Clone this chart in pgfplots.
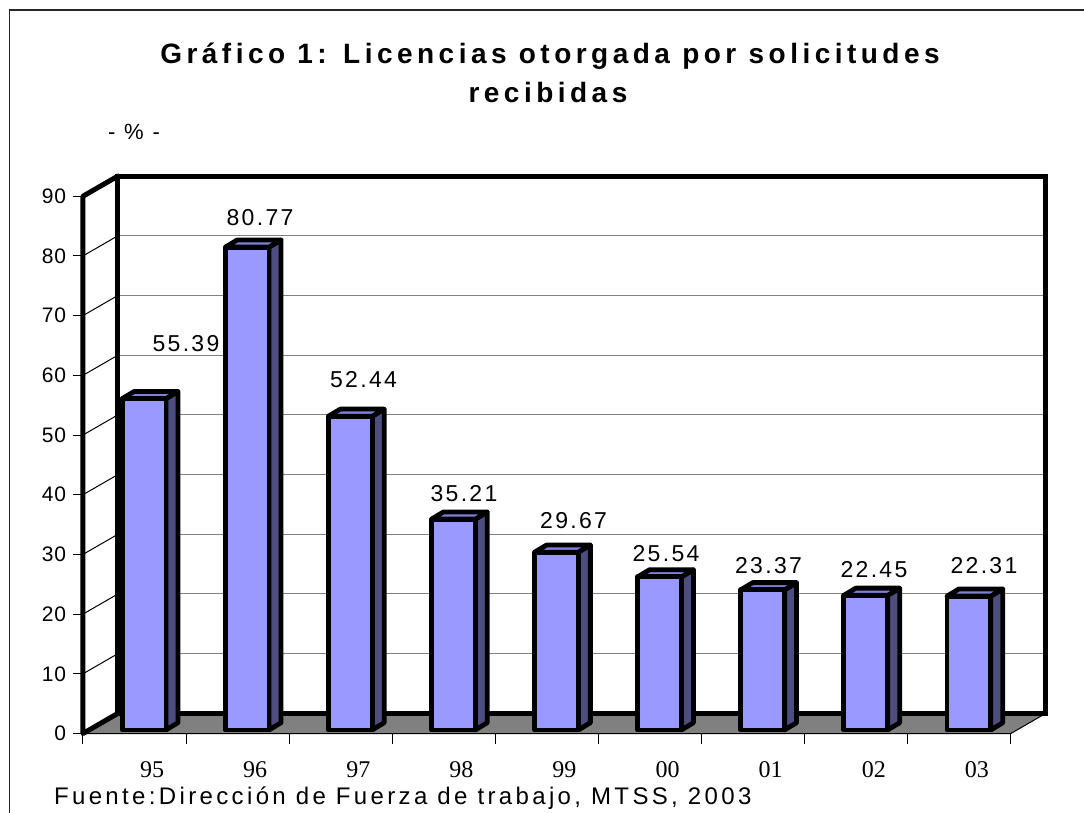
\documentclass[border=0pt]{standalone}
\usepackage{fontspec}
\setmainfont{Liberation Sans}
\usepackage{pgfplots}
\usepackage{pgfplotstable}
\pgfplotsset{compat=1.18}
\newfontfamily\titlefont[LetterSpace=16]{Liberation Sans}
\newfontfamily\lblfont[LetterSpace=10]{Liberation Sans}
\newfontfamily\srcfont[LetterSpace=14]{Liberation Sans}
\newfontfamily\pctfont[LetterSpace=12]{Liberation Sans}
\newfontfamily\tickfont[LetterSpace=3]{Liberation Sans}
\newfontfamily\catfont{Liberation Serif}
\definecolor{barfront}{HTML}{9999FF}
\definecolor{barside}{HTML}{4D4D80}
\definecolor{bartop}{HTML}{7F7FD9}
\definecolor{floorgray}{HTML}{808080}

\pgfplotstableread{
x v
0 55.39
1 80.77
2 52.44
3 35.21
4 29.67
5 25.54
6 23.37
7 22.45
8 22.31
}\datatable

\begin{document}
\begin{tikzpicture}
\path[use as bounding box] (0,0) rectangle (542pt,-406.5pt);
\draw[line width=0.6pt, black!85] (4.75pt,-5pt) rectangle (560pt,-420pt);
\node[anchor=base, font=\titlefont\bfseries\fontsize{14pt}{16pt}\selectfont] at (275pt,-32pt) {Gráfico 1: Licencias otorgada por solicitudes};
\node[anchor=base, font=\titlefont\bfseries\fontsize{14pt}{16pt}\selectfont] at (274pt,-51.5pt) {recibidas};
\node[font=\pctfont\fontsize{11pt}{13pt}\selectfont] at (67pt,-66pt) {- \% -};
\node[anchor=base west, font=\srcfont\fontsize{12pt}{14pt}\selectfont] at (23.5pt,-402pt) {Fuente:Dirección de Fuerza de trabajo, MTSS, 2003};

\begin{axis}[
  at={(41.5pt,-366.75pt)}, anchor=south west,
  x=51.55pt, y=2.985pt,
  xmin=0, xmax=9.339, ymin=0, ymax=93.38,
  clip=false,
  axis x line*=bottom, axis y line*=left,
  axis line style={draw=none},
  tick align=outside,
  major tick length=5pt,
  tick style={black, line width=0.5pt},
  ytick={0,10,...,90},
  xtick={0,1,2,3,4,5,6,7,8,9},
  xticklabels={},
  extra x ticks={0.67,1.67,2.67,3.67,4.67,5.67,6.67,7.67,8.67},
  extra x tick labels={95,96,97,98,99,00,01,02,03},
  extra x tick style={major tick length=0pt, xticklabel style={anchor=base, yshift=-22pt, font=\catfont\fontsize{12pt}{14pt}\selectfont}},
  /pgf/number format/assume math mode=true,
  yticklabel style={font=\tickfont\fontsize{10.5pt}{12pt}\selectfont},
]
% back wall
\fill[white] (axis cs:0.339,3.38) rectangle (axis cs:9.339,93.38);
\draw[floorgray, line width=0.5pt] (axis cs:0.339,13.38) -- (axis cs:9.339,13.38);
\draw[floorgray, line width=0.5pt] (axis cs:0.339,23.38) -- (axis cs:9.339,23.38);
\draw[floorgray, line width=0.5pt] (axis cs:0.339,33.38) -- (axis cs:9.339,33.38);
\draw[floorgray, line width=0.5pt] (axis cs:0.339,43.38) -- (axis cs:9.339,43.38);
\draw[floorgray, line width=0.5pt] (axis cs:0.339,53.38) -- (axis cs:9.339,53.38);
\draw[floorgray, line width=0.5pt] (axis cs:0.339,63.38) -- (axis cs:9.339,63.38);
\draw[floorgray, line width=0.5pt] (axis cs:0.339,73.38) -- (axis cs:9.339,73.38);
\draw[floorgray, line width=0.5pt] (axis cs:0.339,83.38) -- (axis cs:9.339,83.38);
% left wall
\fill[white] (axis cs:0,0) -- (axis cs:0.339,3.38) -- (axis cs:0.339,93.38) -- (axis cs:0,90) -- cycle;
\draw[black, line width=0.5pt] (axis cs:0,10) -- (axis cs:0.339,13.38);
\draw[black, line width=0.5pt] (axis cs:0,20) -- (axis cs:0.339,23.38);
\draw[black, line width=0.5pt] (axis cs:0,30) -- (axis cs:0.339,33.38);
\draw[black, line width=0.5pt] (axis cs:0,40) -- (axis cs:0.339,43.38);
\draw[black, line width=0.5pt] (axis cs:0,50) -- (axis cs:0.339,53.38);
\draw[black, line width=0.5pt] (axis cs:0,60) -- (axis cs:0.339,63.38);
\draw[black, line width=0.5pt] (axis cs:0,70) -- (axis cs:0.339,73.38);
\draw[black, line width=0.5pt] (axis cs:0,80) -- (axis cs:0.339,83.38);
% floor
\filldraw[fill=floorgray, draw=black, line width=0.5pt] (axis cs:0,0) -- (axis cs:9,0) -- (axis cs:9.339,3.38) -- (axis cs:0.339,3.38) -- cycle;
% thick wall outlines
\draw[line width=2.5pt, line join=miter] (axis cs:0.339,3.38) rectangle (axis cs:9.339,93.38);
\draw[line width=2.5pt, line join=round, line cap=round] (axis cs:0.339,3.38) -- (axis cs:0,0) -- (axis cs:0,90) -- (axis cs:0.339,93.38);
% bars
\pgfplotsinvokeforeach{0,...,8}{%
  \pgfplotstablegetelem{#1}{v}\of\datatable
  \pgfmathsetmacro\xl{#1+0.38}%
  \pgfmathsetmacro\xr{#1+0.805}%
  \pgfmathsetmacro\xb{#1+0.921}%
  \pgfmathsetmacro\xlb{#1+0.496}%
  \pgfmathsetmacro\yt{\pgfplotsretval+0.7}%
  \pgfmathsetmacro\ytb{\pgfplotsretval+1.9}%
  \edef\barcmds{%
    \noexpand\addplot[fill=barside, draw=black, line width=2.4pt, line join=round] coordinates {(\xr,0.6) (\xb,1.8) (\xb,\ytb) (\xr,\yt)} -- cycle;
    \noexpand\addplot[fill=bartop, draw=black, line width=2.4pt, line join=round] coordinates {(\xl,\yt) (\xlb,\ytb) (\xb,\ytb) (\xr,\yt)} -- cycle;
    \noexpand\addplot[fill=barfront, draw=black, line width=2.4pt, line join=round] coordinates {(\xl,0.6) (\xr,0.6) (\xr,\yt) (\xl,\yt)} -- cycle;
  }%
  \barcmds
}
% data labels
\begin{scope}[every node/.style={font=\lblfont\fontsize{11.5pt}{13pt}\selectfont, inner sep=0pt}]
\node at (axis cs:0.999,65.33) {55.39};
\node at (axis cs:1.717,86.35) {80.77};
\node at (axis cs:2.721,59.21) {52.44};
\node at (axis cs:3.695,40.20) {35.21};
\node at (axis cs:4.758,35.68) {29.67};
\node at (axis cs:5.655,30.15) {25.54};
\node at (axis cs:6.649,28.06) {23.37};
\node at (axis cs:7.672,27.44) {22.45};
\node at (axis cs:8.739,28.06) {22.31};
\end{scope}
\end{axis}
\end{tikzpicture}
\end{document}
